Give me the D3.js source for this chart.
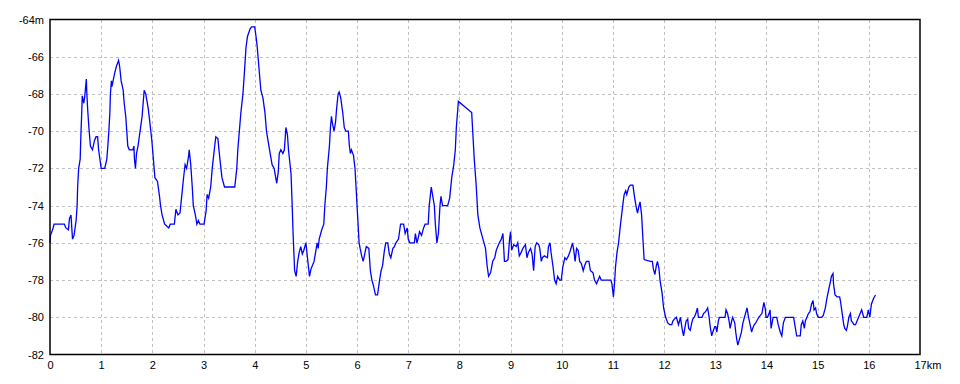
<!DOCTYPE html>
<html><head><meta charset="utf-8">
<script src="https://cdn.jsdelivr.net/npm/d3@7"></script>
<style>
html,body{margin:0;padding:0;background:#fff;}
svg text{font-family:"Liberation Sans",Arial,sans-serif;font-size:11px;fill:#000;}
</style></head>
<body><svg id="c" width="960" height="384"></svg>
<script>
const distanceKm = [
0.00,0.01,0.05,0.08,0.28,0.31,0.36,0.38,0.41,0.44,0.47,0.51,0.53,0.54,0.56,0.59,0.60,0.62,0.63,0.66,0.68,0.70,0.71,0.72,0.74,0.76,0.79,0.83,0.87,0.90,0.93,0.95,1.00,1.07,1.11,1.13,1.15,1.17,1.18,1.20,1.21,1.24,1.27,1.30,1.34,1.36,1.39,1.43,1.45,1.48,1.50,1.52,1.55,1.62,1.64,1.65,1.67,1.69,1.72,1.75,1.77,1.80,1.82,1.84,1.87,1.89,1.92,1.95,1.99,2.02,2.05,2.10,2.14,2.16,2.19,2.24,2.28,2.32,2.35,2.43,2.46,2.50,2.54,2.57,2.61,2.64,2.67,2.71,2.72,2.75,2.78,2.80,2.84,2.87,2.90,2.93,3.01,3.05,3.07,3.10,3.14,3.17,3.21,3.24,3.28,3.32,3.36,3.41,3.61,3.65,3.67,3.70,3.73,3.77,3.80,3.83,3.86,3.91,3.94,4.00,4.03,4.05,4.08,4.12,4.16,4.20,4.23,4.29,4.34,4.38,4.43,4.46,4.48,4.51,4.55,4.58,4.60,4.61,4.64,4.66,4.71,4.73,4.75,4.78,4.81,4.84,4.87,4.90,4.93,4.96,5.00,
5.07,5.10,5.16,5.22,5.24,5.26,5.31,5.35,5.37,5.40,5.42,5.46,5.48,5.50,5.52,5.55,5.58,5.60,5.63,5.65,5.68,5.72,5.75,5.78,5.83,5.85,5.87,5.89,5.93,5.96,5.99,6.01,6.04,6.06,6.09,6.12,6.15,6.18,6.23,6.26,6.29,6.32,6.36,6.40,6.44,6.47,6.50,6.53,6.56,6.60,6.63,6.66,6.70,6.73,6.76,6.81,6.85,6.91,6.94,6.98,7.00,7.03,7.12,7.14,7.17,7.19,7.22,7.26,7.30,7.33,7.39,7.41,7.45,7.48,7.51,7.53,7.56,7.59,7.62,7.64,7.67,7.69,7.77,7.81,7.85,7.89,7.92,7.94,7.98,8.24,8.26,8.29,8.33,8.36,8.40,8.44,8.48,8.51,8.54,8.57,8.61,8.65,8.69,8.72,8.75,8.78,8.82,8.85,8.88,8.91,8.95,8.98,9.00,9.02,9.06,9.11,9.14,9.17,9.21,9.24,9.29,9.32,9.35,9.39,9.42,9.45,9.48,9.51,9.55,9.57,9.60,9.62,9.66,9.72,9.74,9.77,9.79,9.83,9.86,9.89,9.92,9.96,9.99,10.02,10.06,10.09,10.13,10.17,10.21,10.24,10.26,10.29,10.32,10.35,10.38,10.42,10.45,10.48,10.53,10.56,10.61,10.64,10.68,10.71,10.74,10.77,10.96,10.98,11.01,
11.03,11.05,11.08,11.11,11.14,11.17,11.20,11.22,11.25,11.27,11.31,11.34,11.39,11.42,11.45,11.48,11.51,11.53,11.56,11.59,11.61,11.73,11.77,11.79,11.82,11.85,11.87,11.90,11.92,11.96,11.99,12.03,12.07,12.11,12.15,12.17,12.20,12.24,12.28,12.32,12.35,12.38,12.41,12.43,12.46,12.48,12.51,12.54,12.56,12.59,12.62,12.65,12.67,12.71,12.74,12.77,12.81,12.85,12.88,12.90,12.93,12.95,12.99,13.01,13.03,13.06,13.08,13.19,13.21,13.24,13.27,13.29,13.32,13.34,13.38,13.40,13.42,13.44,13.47,13.51,13.54,13.57,13.59,13.62,13.65,13.68,13.71,13.73,13.76,13.79,13.81,13.85,13.88,13.91,13.93,13.95,13.98,13.99,14.02,14.05,14.07,14.09,14.13,14.17,14.20,14.23,14.27,14.30,14.33,14.37,14.53,14.56,14.59,14.66,14.68,14.71,14.74,14.76,14.79,14.82,14.85,14.88,14.91,14.93,14.96,14.98,15.01,15.08,15.11,15.15,15.18,15.21,15.24,15.27,15.30,15.31,15.34,15.38,15.43,15.45,15.48,15.51,15.53,15.56,15.58,15.61,15.64,15.66,15.69,15.71,15.74,15.77,15.80,15.83,15.86,15.90,15.96,15.99,16.02,16.05,16.09,16.13
];
const elevationM = [
-76,-75.6,-75.3,-75,-75,-75.2,-75.3,-74.7,-74.5,-75.8,-75.6,-74.8,-74,-73,-72,-71.5,-70.5,-69,-68.1,-68.5,-68.1,-67.5,-67.2,-68,-69,-69.8,-70.8,-71,-70.5,-70.3,-70.3,-71,-72,-72,-71.5,-70.8,-70,-69,-68,-67.3,-67.6,-67.2,-66.8,-66.5,-66.2,-66.5,-67.3,-67.8,-68.5,-69.2,-70,-70.8,-71,-71,-70.8,-71.5,-72,-71.2,-70.8,-70.2,-69.8,-69.2,-68.5,-67.8,-68,-68.3,-68.8,-69.5,-70.5,-71.5,-72.5,-72.7,-73.5,-74,-74.5,-75,-75.1,-75.2,-75,-75,-74.2,-74.5,-74.4,-73.6,-72.5,-71.8,-72,-71.3,-71,-71.8,-73,-74,-74.5,-75,-74.8,-75,-75,-74.3,-73.4,-73.6,-73,-72,-71,-70.3,-70.4,-71.5,-72.5,-73,-73,-72,-71,-70,-69,-68,-66.8,-65.5,-64.9,-64.5,-64.4,-64.4,-65,-65.5,-66.5,-67.8,-68.2,-69,-70,-71,-71.8,-72,-72.8,-72.2,-71.2,-71,-71.2,-71,-70.2,-69.8,-70.2,-71,-72.3,-73.8,-75.5,-77.5,-77.8,-77,-76.5,-76.2,-76.6,-76.4,-76,
-77.8,-77.4,-77,-76,-76.3,-75.8,-75.3,-75,-74,-73,-72,-70.8,-69.8,-69.2,-69.6,-70,-69.5,-68.8,-68,-67.9,-68.2,-69,-69.8,-70,-70,-70.8,-71.2,-71,-71.3,-72,-73.5,-74.5,-76,-76.3,-76.7,-77,-76.6,-76.2,-76.3,-77.5,-78,-78.3,-78.8,-78.8,-78,-77.5,-77.2,-76.5,-76,-76,-76.6,-76.8,-76.3,-76.2,-76,-75.8,-75,-75,-75.5,-75.2,-75.8,-76,-76,-75.5,-76,-75.8,-75.4,-75.6,-75.2,-75,-75,-74,-73,-73.5,-74,-75,-76,-75.5,-74,-73.5,-74,-74,-74,-73.6,-72.5,-71.8,-71,-69.8,-68.4,-69,-70,-71.5,-73,-74.5,-75.2,-75.6,-76,-76.3,-77.2,-77.8,-77.6,-77,-76.8,-76.4,-76.2,-76,-75.8,-75.5,-77,-77,-76.9,-75.8,-75.4,-76.4,-76.1,-76.2,-76,-76.7,-76.5,-76.3,-76.1,-76.8,-76.5,-76.3,-76.6,-77.5,-76.2,-76,-76.1,-76.3,-77,-76.8,-76.7,-76.8,-76.2,-76,-76.5,-77.3,-78,-78.2,-77.8,-78,-78,-77.3,-76.8,-76.9,-76.7,-76.4,-76,-76.5,-77,-76.3,-76.4,-77,-77.1,-77.5,-77.2,-77,-77,-77.5,-77.6,-78,-78.2,-78,-77.8,-78,-78,-78.2,-78.9,
-78.2,-77.3,-76.5,-76,-75.2,-74.5,-73.8,-73.4,-73.2,-73.4,-73,-72.9,-72.9,-73.5,-74,-74.4,-74,-73.8,-74.5,-76,-76.9,-77,-77,-77.4,-77.7,-77.2,-77,-77.4,-78,-78.7,-79.5,-80,-80.3,-80.4,-80.4,-80.2,-80.1,-80,-80.4,-80,-80.6,-81,-80.5,-80.2,-80.1,-80.6,-80.7,-80.3,-80.1,-80,-79.8,-79.5,-80,-80,-80,-79.8,-79.7,-79.5,-80,-80.5,-81,-80.8,-80.5,-80.5,-80.8,-80.2,-80,-80,-79.6,-79.8,-80.2,-80.6,-80.2,-80,-80.3,-80.8,-81.2,-81.5,-81.2,-80.8,-80.3,-80,-79.8,-79.5,-80,-80.4,-80.8,-80.6,-80.4,-80.3,-80.2,-80,-79.9,-79.8,-79.5,-79.2,-79.6,-80,-80,-79.8,-79.6,-80.6,-80,-80,-80,-80.4,-80.8,-81,-80.3,-80,-80,-80.5,-81,-81,-80.4,-80.2,-80.6,-80.2,-80,-79.8,-79.7,-79.3,-79.1,-79.6,-79.5,-79.8,-80,-80,-79.9,-79.5,-79,-78.6,-78.2,-77.8,-77.65,-78.2,-78.8,-78.9,-78.9,-79.2,-79.8,-80.4,-80.6,-80.7,-80.5,-80,-79.8,-80.2,-80.3,-80.4,-80.4,-80.2,-80,-79.8,-79.6,-80,-80,-79.6,-80,-79.3,-79,-78.8
];
const xTicks = [0,1,2,3,4,5,6,7,8,9,10,11,12,13,14,15,16,17];
const xTickLabels = ["0","1","2","3","4","5","6","7","8","9","10","11","12","13","14","15","16","17km"];
const yTicks = [-64,-66,-68,-70,-72,-74,-76,-78,-80,-82];
const yTickLabels = ["-64m","-66","-68","-70","-72","-74","-76","-78","-80","-82"];

const svg = d3.select("#c");
const L = 50, R = 920, T = 19.5, B = 354.5;
const x = d3.scaleLinear().domain([0,17]).range([L,R]);
const y = d3.scaleLinear().domain([-82,-64]).range([B,T]);

// grid
const g = svg.append("g");
g.selectAll("line.v").data(xTicks.slice(1,-1)).enter().append("line")
  .attr("x1",d=>Math.round(x(d))+0.5).attr("x2",d=>Math.round(x(d))+0.5)
  .attr("y1",T).attr("y2",B)
  .attr("stroke","#c0c0c0").attr("stroke-dasharray","3,3").attr("shape-rendering","crispEdges");
g.selectAll("line.h").data(yTicks.slice(1,-1)).enter().append("line")
  .attr("y1",d=>Math.round(y(d))+0.5).attr("y2",d=>Math.round(y(d))+0.5)
  .attr("x1",L).attr("x2",R)
  .attr("stroke","#c0c0c0").attr("stroke-dasharray","3,3").attr("shape-rendering","crispEdges");

// line
const pts = distanceKm.map((d,i)=>[d, elevationM[i]]);
svg.append("path").datum(pts)
  .attr("d", d3.line().x(d=>x(d[0])).y(d=>y(d[1])))
  .attr("fill","none").attr("stroke","#0000ff").attr("stroke-width",1.3);

// frame
svg.append("rect").attr("x",L).attr("y",T).attr("width",R-L).attr("height",B-T)
  .attr("fill","none").attr("stroke","#000").attr("stroke-width",1.5);

// axes labels via d3 axes
const xAxis = d3.axisBottom(x).tickValues(xTicks).tickSize(0).tickPadding(7)
  .tickFormat((d,i)=>xTickLabels[i]);
const xa = svg.append("g").attr("transform",`translate(0,${B})`).call(xAxis);
xa.select(".domain").remove();
xa.selectAll("text").style("font-size","11px").attr("fill","#000")
  .attr("text-anchor",(d,i)=> i===xTicks.length-1 ? "start" : "middle")
  .attr("dx",(d,i)=> i===xTicks.length-1 ? "-6" : "0");

const yAxis = d3.axisLeft(y).tickValues(yTicks).tickSize(0).tickPadding(6)
  .tickFormat((d,i)=>yTickLabels[i]);
const ya = svg.append("g").attr("transform",`translate(${L},0)`).call(yAxis);
ya.select(".domain").remove();
ya.selectAll("text").style("font-size","11px").attr("fill","#000");
</script></body></html>
